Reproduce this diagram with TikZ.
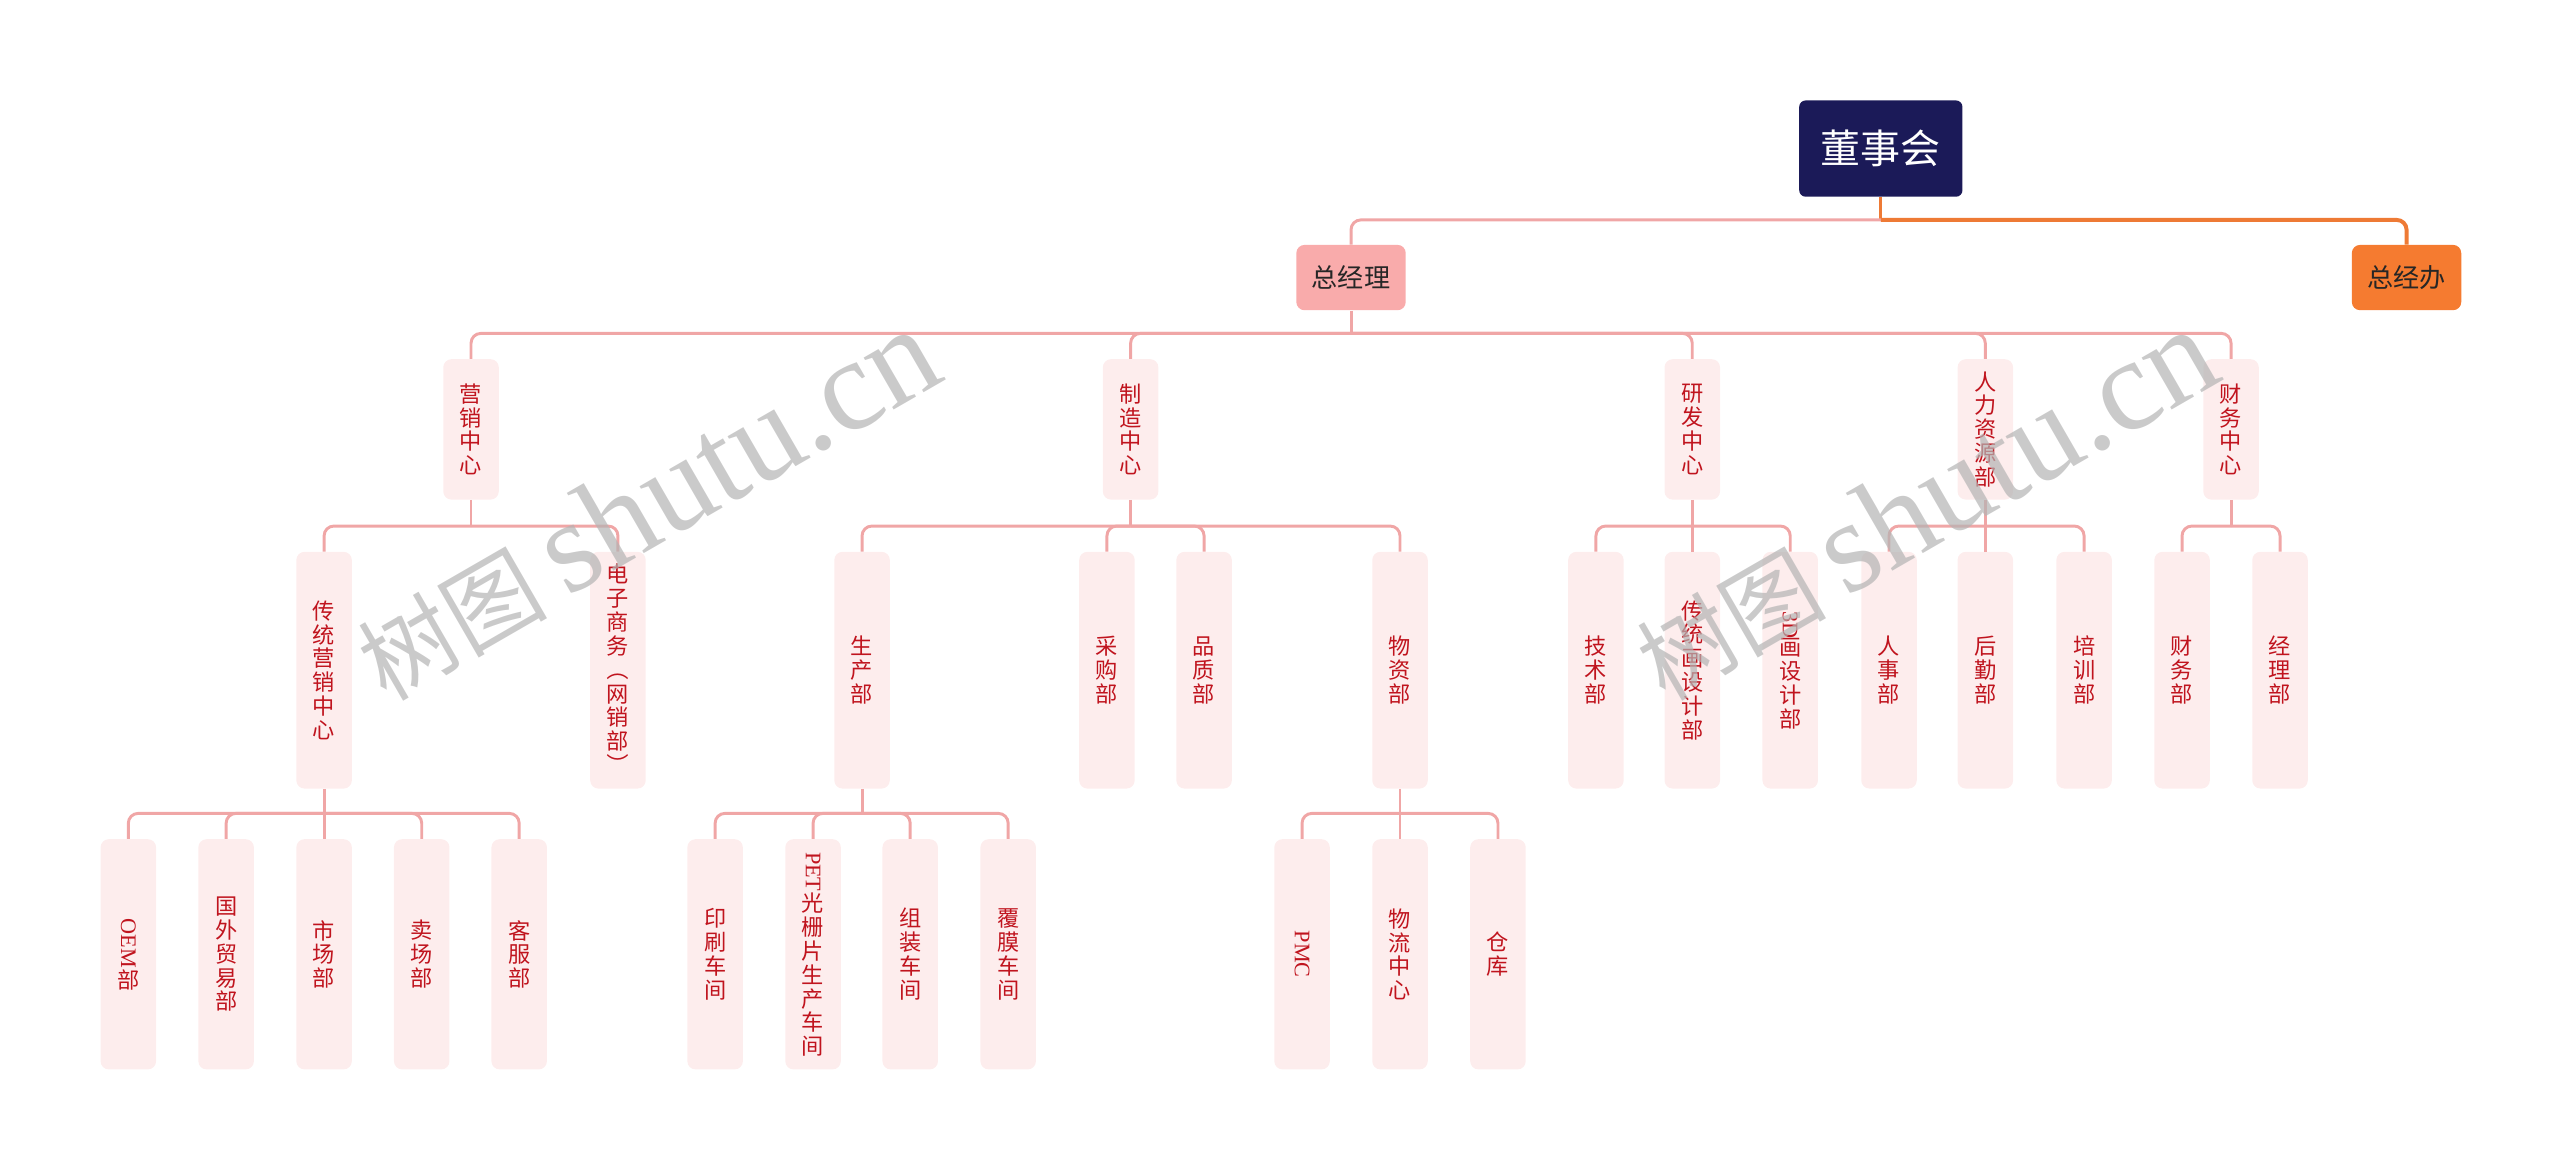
\documentclass[tikz,border=0pt]{standalone}
\usepackage{fontspec}
\usepackage{graphicx}
\setmainfont{Liberation Serif}
\newfontfamily\cjk{Noto Sans CJK SC}
\definecolor{rootc}{HTML}{1B1A58}
\definecolor{gmc}{HTML}{F9ABAB}
\definecolor{goc}{HTML}{F57B30}
\definecolor{boxc}{HTML}{FDEDED}
\definecolor{txtc}{HTML}{C0141E}
\definecolor{linec}{HTML}{F0A6A6}
\definecolor{orl}{HTML}{EE7A35}
\definecolor{wmc}{HTML}{B4B4B4}
\newcommand\rl[1]{\rotatebox[origin=c]{-90}{#1}}
\newcommand\mybranch[3]{%
  \path (#1.south) ++(0,#2) coordinate (#1j);
  \draw[conn] (#1.south) -- (#1j);
  \foreach \c in {#3} {\draw[conn] (#1j) -| (\c.north);}
}
\newcommand\wmtext{{\cjk\fontsize{58}{58}\selectfont 树图}\hspace{12pt}{\fontsize{80}{80}\selectfont shutu.cn}}
\begin{document}
\begin{tikzpicture}[x=1pt,y=-1pt,
  vb/.style={fill=boxc, rounded corners=5pt, minimum width=34pt, inner sep=0pt,
    align=center, text=txtc, font=\cjk\fontsize{13.6}{14.6}\selectfont},
  l2/.style={vb, minimum height=86pt},
  l3/.style={vb, minimum height=145pt},
  l4/.style={vb, minimum height=141pt},
  top1/.style={rounded corners=5pt, minimum width=67pt, minimum height=40pt, inner sep=0pt,
    text=black!85, font=\cjk\fontsize{16}{16}\selectfont},
  conn/.style={draw=linec, line width=1.8pt, rounded corners=6pt},
  wm/.style={rotate=30, text=wmc, opacity=0.7, inner sep=0pt}
]
\useasboundingbox (0,0) rectangle (1568,717);

% root and level 1
\node[fill=rootc, rounded corners=4pt, minimum width=100pt, minimum height=59pt, inner sep=0pt,
  text=white, font=\cjk\fontsize{24.5}{24.5}\selectfont] (root) at (1152,91) {董事会};
\node[top1, fill=gmc] (zjl) at (827.5,170) {总经理};
\node[top1, fill=goc] (zjb) at (1474,170) {总经办};

% level 2
\node[l2] (m1) at (288.5,263) {营\\销\\中\\心};
\node[l2] (m2) at (692.5,263) {制\\造\\中\\心};
\node[l2] (m3) at (1036.5,263) {研\\发\\中\\心};
\node[l2] (m4) at (1216,263) {人\\力\\资\\源\\部};
\node[l2] (m5) at (1366.5,263) {财\\务\\中\\心};

% level 3
\node[l3] (a1) at (198.5,410.5) {传\\统\\营\\销\\中\\心};
\node[l3] (a2) at (378.5,410.5) {电\\子\\商\\务\\\rl{（}\\网\\销\\部\\\rl{）}};
\node[l3] (b1) at (528,410.5) {生\\产\\部};
\node[l3] (b2) at (678,410.5) {采\\购\\部};
\node[l3] (b3) at (737.5,410.5) {品\\质\\部};
\node[l3] (b4) at (857.5,410.5) {物\\资\\部};
\node[l3] (c1) at (977.5,410.5) {技\\术\\部};
\node[l3] (c2) at (1036.5,410.5) {传\\统\\画\\设\\计\\部};
\node[l3] (c3) at (1096.5,410.5) {\rl{\rmfamily 3D}\\画\\设\\计\\部};
\node[l3] (d1) at (1157,410.5) {人\\事\\部};
\node[l3] (d2) at (1216,410.5) {后\\勤\\部};
\node[l3] (d3) at (1276.5,410.5) {培\\训\\部};
\node[l3] (e1) at (1336.5,410.5) {财\\务\\部};
\node[l3] (e2) at (1396.5,410.5) {经\\理\\部};

% level 4
\node[l4] (f1) at (78.6,584.5) {\rl{\rmfamily OEM}\\部};
\node[l4] (f2) at (138.5,584.5) {国\\外\\贸\\易\\部};
\node[l4] (f3) at (198.5,584.5) {市\\场\\部};
\node[l4] (f4) at (258.3,584.5) {卖\\场\\部};
\node[l4] (f5) at (318,584.5) {客\\服\\部};
\node[l4] (g1) at (438,584.5) {印\\刷\\车\\间};
\node[l4] (g2) at (498,584.5) {\rl{\rmfamily PET}\\光\\栅\\片\\生\\产\\车\\间};
\node[l4] (g3) at (557.5,584.5) {组\\装\\车\\间};
\node[l4] (g4) at (617.5,584.5) {覆\\膜\\车\\间};
\node[l4] (h1) at (797.5,584.5) {\rl{\rmfamily PMC}};
\node[l4] (h2) at (857.5,584.5) {物\\流\\中\\心};
\node[l4] (h3) at (917.5,584.5) {仓\\库};

% connectors
\path (root.south) ++(0,14) coordinate (rj);
\draw[conn, draw=orl, line width=2pt] (root.south) -- (rj);
\draw[conn] (rj) -| (zjl.north);
\draw[conn, draw=orl, line width=2.4pt] (rj) -| (zjb.north);
\mybranch{zjl}{14}{m1,m2,m3,m4,m5}
\mybranch{m1}{16}{a1,a2}
\mybranch{m2}{16}{b1,b2,b3,b4}
\mybranch{m3}{16}{c1,c2,c3}
\mybranch{m4}{16}{d1,d2,d3}
\mybranch{m5}{16}{e1,e2}
\mybranch{a1}{15}{f1,f2,f3,f4,f5}
\mybranch{b1}{15}{g1,g2,g3,g4}
\mybranch{b4}{15}{h1,h2,h3}

% watermarks
\node[wm] (wm1) at (396,309) {\wmtext};
\node[wm] (wm2) at (1179,309) {\wmtext};
\end{tikzpicture}
\end{document}
